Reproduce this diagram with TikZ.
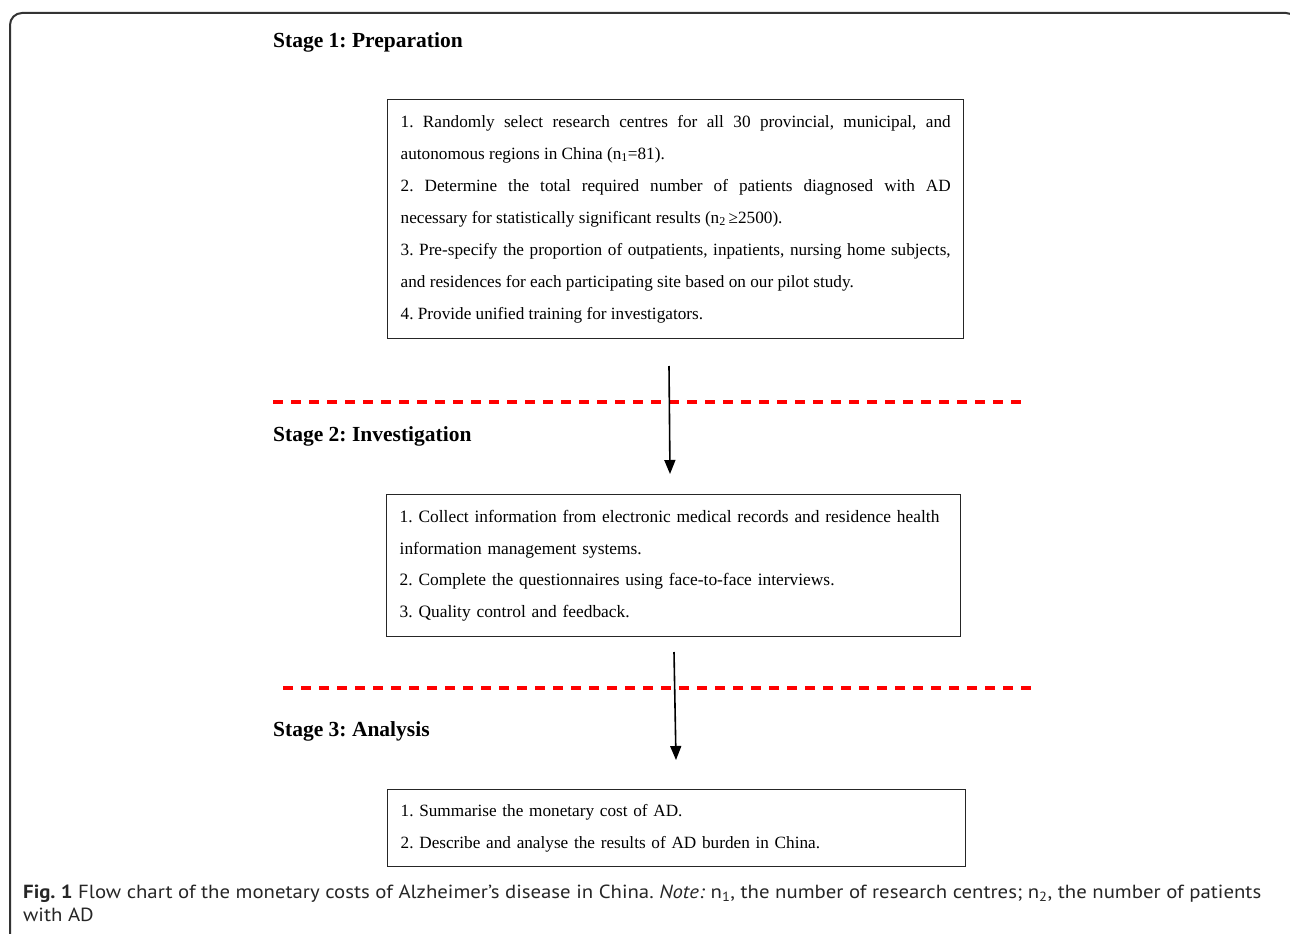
\documentclass[tikz,border=0pt]{standalone}
\usepackage{fontspec}
\setmainfont{Liberation Serif}
\newfontfamily\capfont[FakeStretch=1.094]{PT Sans}
\usetikzlibrary{arrows.meta}
\frenchspacing
\begin{document}
\begin{tikzpicture}[x=1pt,y=-1pt,
  stagelabel/.style={anchor=base west, inner sep=0pt, font=\fontsize{21.5}{25}\selectfont\bfseries},
  stepbox/.style={draw=black!85, line width=1.4pt, anchor=north west, inner xsep=13pt, inner ysep=0pt,
     font=\fontsize{17.2}{32}\selectfont},
  flowarrow/.style={line width=1.6pt, -{Triangle[length=14pt,width=11pt]}},
  divider/.style={red, line width=3.2pt, dash pattern=on 10pt off 8pt},
  captext/.style={anchor=base west, inner sep=0pt, text=black!85, font=\capfont\fontsize{19}{24}\selectfont}]
\useasboundingbox (0,0) rectangle (1290,934);
\begin{scope}
\clip (0,0) rectangle (1290,934);
\draw[black!80, line width=2pt, rounded corners=12pt] (10,960) |- (1298,13) -- (1298,960);
\end{scope}

\node[stagelabel] (s1) at (273,48) {Stage 1: Preparation};
\node[stagelabel] (s2) at (273,441) {Stage 2: Investigation};
\node[stagelabel] (s3) at (273,736) {Stage 3: Analysis};

\node[stepbox, text width=550pt, minimum width=576pt, minimum height=239pt, align=justify] (b1) at (387,99)
 {1. Randomly select research centres for all 30 provincial, municipal, and\linebreak
  autonomous regions in China (n\textsubscript{1}=81).\par
  2. Determine the total required number of patients diagnosed with AD\linebreak
  necessary for statistically significant results (n\textsubscript{2}\,≥2500).\par
  3. Pre-specify the proportion of outpatients, inpatients, nursing home subjects,\linebreak
  and residences for each participating site based on our pilot study.\par
  4. Provide unified training for investigators.};

\node[stepbox, text width=548pt, minimum width=574pt, minimum height=142pt, align=left,
  font=\fontsize{17.4}{31.5}\selectfont] (b2) at (386,494)
 {1. Collect information from electronic medical records and residence health\\
  information management systems.\\
  2. Complete the questionnaires using face-to-face interviews.\\
  3. Quality control and feedback.};

\node[stepbox, text width=552pt, minimum width=578pt, minimum height=77pt, align=left] (b3) at (387,789)
 {1. Summarise the monetary cost of AD.\\
  2. Describe and analyse the results of AD burden in China.};

\draw[divider] (273,402) coordinate (d1a) -- (1024,402) coordinate (d1b);
\draw[divider] (283,688) coordinate (d2a) -- (1032,688) coordinate (d2b);

\coordinate (a1s) at (669,366);
\coordinate (a1e) at (670,474);
\coordinate (a2s) at (674,652);
\coordinate (a2e) at (676,760);
\draw[flowarrow] (a1s) -- (a1e);
\draw[flowarrow] (a2s) -- (a2e);

\node[captext] (cap1) at (23,898)
 {\textbf{Fig. 1} Flow chart of the monetary costs of Alzheimer’s disease in China. \textit{Note:} n\textsubscript{1}, the number of research centres; n\textsubscript{2}, the number of patients};
\node[captext] (cap2) at (23,921) {with AD};
\end{tikzpicture}
\end{document}
